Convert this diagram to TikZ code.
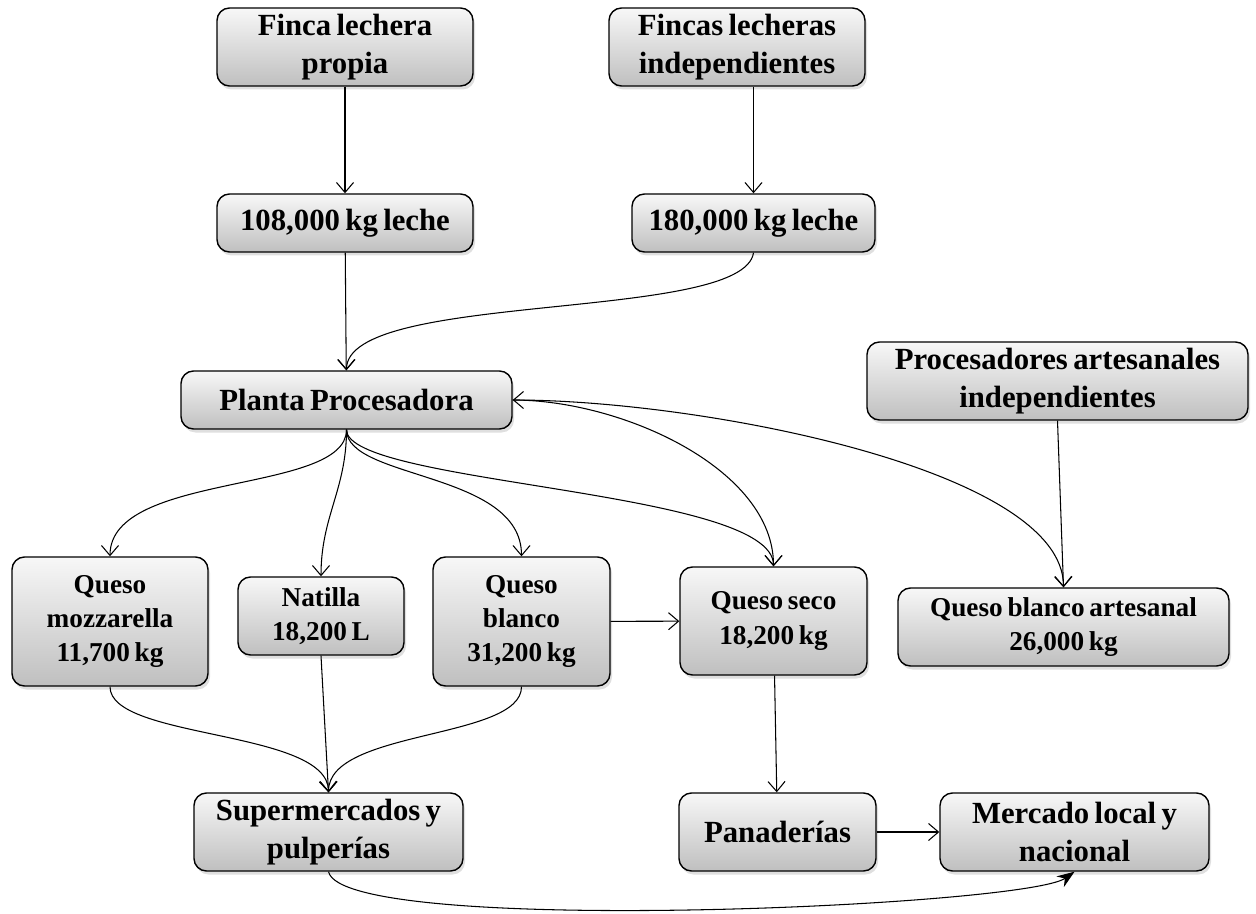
\documentclass[tikz,border=0pt]{standalone}
\usepackage{fontspec}
\setmainfont{Liberation Serif}[WordSpace=0.7]
\usetikzlibrary{arrows.meta,shadows}
\begin{document}
\begin{tikzpicture}[>={Straight Barb[length=2mm,width=3.4mm]},
	box/.style={draw, line width=0.8pt, rounded corners=2.5mm, top color=gray!6, bottom color=gray!50, align=center, inner sep=1pt,
		drop shadow={shadow xshift=0.4mm, shadow yshift=-0.7mm, opacity=0.25}},
	big/.style={box, font=\fontsize{17.5}{22}\selectfont\bfseries},
	small/.style={box, font=\fontsize{15.5}{19.5}\selectfont\bfseries},
	flow/.style={->, line width=0.6pt}]
	\useasboundingbox (0,0) rectangle (25.12,-18.28);
	% origen de la leche
	\node[big, minimum width=5.12cm, minimum height=1.56cm] (propia) at (6.90,-0.94) {Finca lechera\\propia};
	\node[big, minimum width=5.12cm, minimum height=1.56cm] (indep) at (14.74,-0.94) {Fincas lecheras\\independientes};
	\node[big, minimum width=5.12cm, minimum height=1.16cm] (l108) at (6.90,-4.46) {108,000 kg leche};
	\node[big, minimum width=4.86cm, minimum height=1.16cm] (l180) at (15.07,-4.46) {180,000 kg leche};
	\node[big, minimum width=6.62cm, minimum height=1.16cm] (planta) at (6.93,-8.00) {Planta Procesadora};
	\node[big, minimum width=7.62cm, minimum height=1.56cm] (proc) at (21.15,-7.62) {Procesadores artesanales\\independientes};
	% productos
	\node[small, minimum width=3.92cm, minimum height=2.58cm] (mozz) at (2.20,-12.43) {Queso\\mozzarella\\11,700 kg};
	\node[small, minimum width=3.32cm, minimum height=1.56cm] (natilla) at (6.42,-12.32) {Natilla\\18,200 L};
	\node[small, minimum width=3.54cm, minimum height=2.58cm] (blanco) at (10.43,-12.43) {Queso\\blanco\\31,200 kg};
	\node[small, minimum width=3.74cm, minimum height=2.16cm] (seco) at (15.47,-12.42) {Queso seco\\18,200 kg};
	\node[small, minimum width=6.62cm, minimum height=1.56cm] (artesanal) at (21.27,-12.54) {Queso blanco artesanal\\26,000 kg};
	% mercados
	\node[big, minimum width=5.38cm, minimum height=1.56cm] (super) at (6.57,-16.64) {Supermercados y\\pulperías};
	\node[big, minimum width=3.94cm, minimum height=1.56cm] (panad) at (15.55,-16.64) {Panaderías};
	\node[big, minimum width=5.38cm, minimum height=1.56cm] (mercado) at (21.49,-16.64) {Mercado local y\\nacional};

	\draw[flow] (propia) -- (l108);
	\draw[flow] (l180.north |- indep.south) -- (l180.north);
	\draw[flow] (l108) -- (planta);
	\draw[flow] (l180.south) .. controls +(-0.2,-1.4) and +(0,1.6) .. (planta.north);
	\draw[flow] (proc.south) -- (artesanal.north);
	\draw[flow] (planta.south) .. controls +(0,-1.3) and +(0,1.7) .. (mozz.north);
	\draw[flow] (planta.south) .. controls +(0,-1.2) and +(0,1.2) .. (natilla.north);
	\draw[flow] (planta.south) .. controls +(0,-1.0) and +(0,1.7) .. (blanco.north);
	\draw[flow] (planta.south) .. controls +(0,-1.1) and +(0,1.54) .. (seco.north);
	\draw[flow] (planta.east) .. controls +(2.2,0) and +(0,1.94) .. (seco.north);
	\draw[flow, <->] (planta.east) .. controls +(3.74,0) and +(0,2.36) .. (artesanal.north);
	\draw[flow] (blanco) -- (seco);
	\draw[flow] (seco) -- (panad);
	\draw[flow] (panad) -- (mercado);
	\draw[flow] (mozz.south) .. controls +(0,-1.06) and +(0,1.26) .. (super.north);
	\draw[flow] (natilla.south) -- (super.north);
	\draw[flow] (blanco.south) .. controls +(0,-1.06) and +(0,1.26) .. (super.north);
	\draw[line width=0.6pt, -{Stealth[length=3.5mm,width=2.6mm]}] (super.south) .. controls +(0.3,-1.3) and +(-1,-0.7) .. (mercado.south);
\end{tikzpicture}
\end{document}
